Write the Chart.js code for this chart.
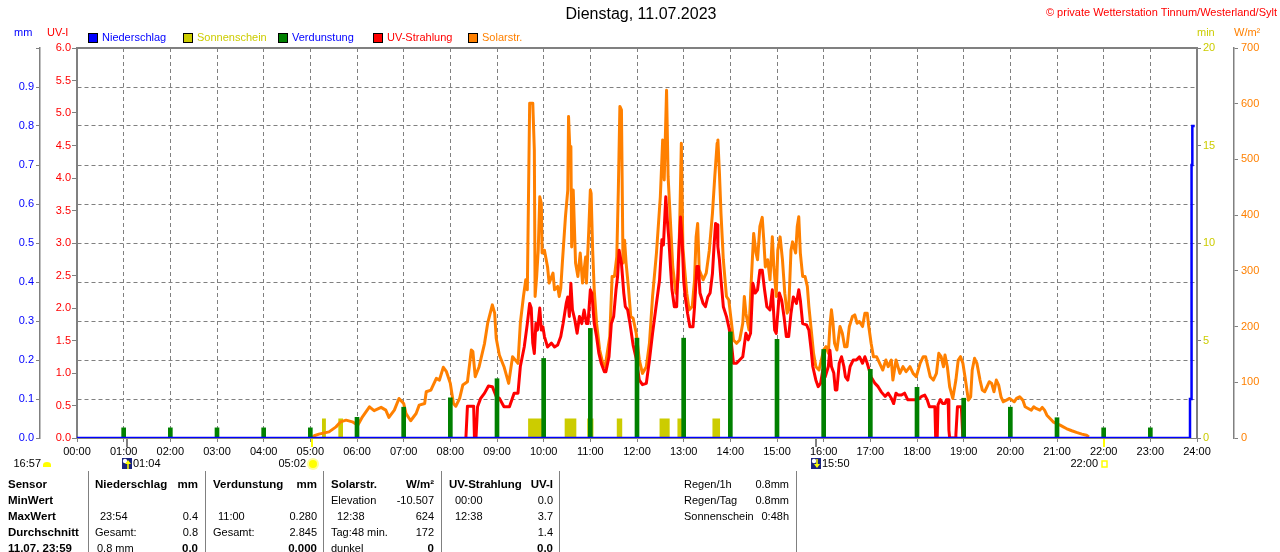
<!DOCTYPE html>
<html>
<head>
<meta charset="utf-8">
<title>Dienstag, 11.07.2023</title>
<script src="https://cdn.jsdelivr.net/npm/chart.js@4.4.0/dist/chart.umd.min.js"></script>
<style>
  html, body { margin: 0; padding: 0; background: #fff; }
  #wrap { width: 1280px; height: 552px; }
</style>
</head>
<body>
<div id="wrap"><canvas id="wetter-chart" width="1280" height="552"></canvas></div>
<script>

// Solarstrahlung (W/m²)
const solarTimes = [
  '05:02','05:05','05:11','05:24','05:33','05:39','05:46','05:54',
  '06:01','06:07','06:16','06:22','06:31','06:37','06:41','06:48','06:54',
  '07:00','07:03','07:09','07:16','07:20','07:27','07:29','07:35','07:42','07:46','07:51','07:55',
  '08:00','08:04','08:07','08:12','08:16','08:22','08:27','08:29','08:32','08:37','08:44','08:48','08:54','08:57','08:59',
  '09:03','09:09','09:15','09:20','09:27','09:30','09:34','09:37','09:39','09:42','09:46','09:48',
  '09:49','09:51','09:53','09:55','09:57','09:58',
  '10:01','10:05','10:07','10:12','10:14','10:18','10:20','10:22','10:24','10:28',
  '10:31','10:32','10:34','10:35','10:36','10:38','10:41','10:44','10:47','10:50','10:54','10:55','10:58',
  '11:00','11:01','11:03','11:05','11:08','11:12','11:16','11:19','11:25','11:28',
  '11:31','11:34','11:36','11:38','11:40','11:42','11:44','11:46','11:49','11:52','11:55','11:59',
  '12:03','12:07','12:12','12:16','12:20','12:25','12:30','12:33','12:35','12:38',
  '12:40','12:42','12:44','12:46','12:50','12:53','12:55','12:57','12:59',
  '13:01','13:04','13:07','13:11','13:14','13:16','13:18','13:20','13:25','13:29',
  '13:33','13:37','13:40','13:43','13:44','13:46','13:48','13:51','13:55','13:58',
  '14:01','14:04','14:08','14:12','14:16','14:18','14:20','14:24','14:27','14:30',
  '14:33','14:35','14:38','14:41','14:43','14:45','14:48','14:51','14:54','14:56','14:59',
  '15:01','15:04','15:07','15:10','15:13','15:15','15:18','15:20','15:24','15:26','15:28',
  '15:30','15:33','15:36','15:39','15:41','15:44','15:47','15:50','15:54','15:57',
  '16:00','16:03','16:06','16:08','16:10','16:12','16:14','16:17','16:21','16:24','16:27',
  '16:30','16:33','16:37','16:40','16:43','16:46','16:50','16:53','16:56','16:58',
  '17:01','17:04','17:08','17:12','17:16','17:20','17:23','17:27','17:29','17:33','17:38','17:42','17:46','17:51','17:55','17:59',
  '18:04','18:08','18:11','18:14','18:17','18:21','18:25','18:28','18:31','18:34',
  '18:36','18:39','18:42','18:46','18:50','18:53','18:56','18:59',
  '19:03','19:06','19:09','19:11','19:14','19:17','19:21','19:24','19:27','19:30',
  '19:33','19:36','19:39','19:42','19:45','19:48','19:51','19:55','19:59',
  '20:02','20:05','20:08','20:12','20:16','20:19','20:23','20:27','20:30','20:33',
  '20:38','20:41','20:44','20:47','20:51','20:55','20:59',
  '21:04','21:08','21:12','21:19','21:25','21:32','21:38','21:41'
];
const solarValues = [
  0, 4, 7, 11, 20, 29, 32, 29,
  23, 38, 56, 49, 55, 50, 37, 50, 71,
  62, 44, 31, 44, 59, 62, 83, 86, 107, 104, 127, 119,
  98, 62, 57, 71, 95, 101, 158, 155, 110, 128, 170, 206, 239, 224, 179,
  149, 128, 98, 146, 134, 206, 254, 284, 266, 601, 601, 517,
  254, 290, 337, 433, 421, 332,
  337, 307, 278, 296, 266, 272, 254, 269, 314, 397,
  445, 577, 505, 523, 343, 445, 314, 290, 332, 278, 325, 278, 373,
  445, 439, 337, 266, 206, 158, 134, 128, 182, 290,
  290, 325, 445, 595, 589, 314, 355, 314, 270, 218, 215, 188,
  140, 116, 128, 170, 254, 332, 433, 535, 463, 624,
  469, 415, 361, 307, 260, 284, 391, 529, 343,
  307, 260, 230, 236, 284, 361, 385, 302, 284, 296,
  337, 403, 469, 529, 535, 475, 403, 320, 254, 248,
  212, 176, 170, 176, 206, 254, 224, 194, 284, 367,
  332, 320, 380, 396, 355, 307, 320, 284, 361, 307, 254,
  337, 361, 320, 260, 224, 230, 337, 352, 332, 379, 397,
  332, 290, 290, 272, 236, 194, 152, 128, 122, 140,
  158, 164, 152, 200, 230, 206, 170, 158, 200, 188, 164,
  164, 200, 218, 221, 206, 209, 200, 224, 224, 200,
  170, 146, 146, 134, 122, 140, 128, 140, 104, 140, 116, 128, 119, 128, 116, 110,
  134, 146, 146, 128, 110, 104, 116, 152, 146, 128,
  149, 128, 92, 71, 104, 140, 146, 134,
  98, 68, 74, 122, 143, 134, 104, 86, 83, 92,
  101, 98, 83, 104, 95, 74, 65, 68, 71,
  68, 65, 71, 74, 68, 56, 53, 50, 56, 53,
  50, 55, 50, 41, 35, 29, 26,
  23, 20, 17, 13, 10, 7, 5, 2
];

// UV-Strahlung (UV-Index)
const uvTimes = [
  '08:20','08:22','08:27','08:30','08:31','08:33','08:35','08:39','08:44','08:49','08:54','08:59',
  '09:03','09:09','09:16','09:22','09:27','09:30','09:35','09:39','09:42','09:44','09:46','09:48',
  '09:50','09:52','09:55','09:57','09:59',
  '10:01','10:05','10:10','10:14','10:18','10:22','10:25','10:29','10:31','10:33','10:35','10:37',
  '10:40','10:43','10:46','10:49','10:52','10:55','10:57',
  '11:00','11:02','11:05','11:08','11:11','11:14','11:18','11:20','11:24','11:27','11:30',
  '11:33','11:35','11:37','11:40','11:43','11:45','11:48','11:51','11:55','11:59',
  '12:03','12:07','12:12','12:16','12:20','12:25','12:29','12:32','12:34','12:37','12:39','12:41',
  '12:43','12:45','12:48','12:51','12:53','12:56','12:58',
  '13:00','13:02','13:05','13:08','13:12','13:14','13:17','13:19','13:21','13:25','13:28','13:31',
  '13:34','13:37','13:39','13:41','13:43','13:44','13:46','13:48','13:51','13:55','13:58',
  '14:01','14:04','14:08','14:12','14:16','14:20','14:23','14:26','14:29','14:32','14:35',
  '14:38','14:41','14:44','14:47','14:51','14:54','14:57','14:59',
  '15:03','15:06','15:09','15:12','15:15','15:18','15:21','15:25','15:28','15:30',
  '15:33','15:38','15:41','15:44','15:46','15:50','15:53','15:56','15:59',
  '16:02','16:06','16:08','16:10','16:13','16:15','16:17','16:20','16:23','16:26','16:28',
  '16:31','16:34','16:38','16:42','16:46','16:50','16:53','16:56',
  '17:01','17:06','17:10','17:14','17:19','17:23','17:27','17:30','17:33','17:36','17:40','17:44','17:48','17:55',
  '18:01','18:06','18:10','18:13','18:16','18:20','18:23','18:24','18:26','18:27','18:30','18:33',
  '18:36','18:38','18:40','18:41','18:42','18:49','18:50','18:52','18:57','18:59','19:01'
];
const uvValues = [
  0, 0.49, 0.49, 0.49, 0, 0, 0.48, 0.61, 0.69, 0.80, 0.79, 0.64,
  0.61, 0.48, 0.48, 0.69, 0.69, 1.10, 1.40, 1.76, 2.07, 2.00, 1.46, 1.30,
  1.76, 1.66, 2.00, 1.66, 1.71,
  1.56, 1.40, 1.46, 1.40, 1.43, 1.56, 1.76, 2.07, 2.17, 1.87, 2.38, 1.97,
  1.82, 1.61, 1.87, 1.76, 1.97, 1.76, 1.76,
  2.28, 2.23, 1.76, 1.56, 1.30, 1.15, 1.02, 1.02, 1.25, 1.76, 1.87,
  2.28, 2.48, 2.89, 2.69, 2.23, 2.02, 1.97, 1.76, 1.43, 1.22,
  0.89, 0.82, 0.84, 1.20, 1.61, 2.07, 2.43, 3.05, 2.97, 3.71, 3.35, 3.05,
  2.64, 2.28, 2.02, 2.02, 2.69, 3.40, 3.05,
  2.43, 2.17, 1.92, 1.71, 1.71, 2.02, 2.64, 2.64, 2.23, 2.07, 2.02, 2.17,
  2.23, 2.53, 2.94, 3.30, 3.28, 2.94, 2.74, 2.43, 2.02, 1.87, 1.71,
  1.51, 1.15, 1.15, 1.20, 1.25, 1.61, 1.51, 1.61, 2.38, 2.23, 2.28,
  2.58, 2.58, 2.28, 2.02, 1.97, 2.28, 1.66, 1.61,
  2.23, 2.12, 1.87, 1.56, 1.56, 1.92, 2.17, 2.07, 2.28, 2.12,
  1.76, 1.74, 1.66, 1.35, 1.10, 0.89, 0.79, 0.84, 1.05,
  0.94, 1.10, 1.35, 1.10, 1.00, 0.74, 0.74, 1.15, 1.25, 1.10, 0.94,
  0.89, 1.10, 1.20, 1.20, 1.25, 1.15, 1.25, 1.15,
  0.94, 0.84, 0.79, 0.71, 0.64, 0.69, 0.61, 0.53, 0.69, 0.66, 0.66, 0.69, 0.59, 0.59,
  0.59, 0.64, 0.66, 0.59, 0.48, 0.48, 0.48, 0, 0, 0.51, 0.59, 0.53,
  0.53, 0.59, 0.59, 0.12, 0, 0, 0.05, 0.48, 0.48, 0, 0
];

// Verdunstung (mm pro Stunde)
const evapTimes = ['01:00','02:00','03:00','04:00','05:00','06:00','07:00','08:00','09:00','10:00','11:00','12:00',
  '13:00','14:00','15:00','16:00','17:00','18:00','19:00','20:00','21:00','22:00','23:00'];
const evapValues = [0.026, 0.026, 0.026, 0.026, 0.026, 0.053, 0.079, 0.103, 0.152, 0.204, 0.281, 0.256,
  0.256, 0.272, 0.253, 0.227, 0.176, 0.130, 0.102, 0.079, 0.052, 0.026, 0.026];

// Niederschlag (mm, aufsummiert)
const rainTimes = ['00:00','23:51','23:53','23:54','23:57'];
const rainValues = [0, 0.1, 0.7, 0.8, 0.8];

// Sonnenschein (min)
const sunFrom = ['05:15','05:36','09:40','10:27','10:56','11:34','12:29','12:52','13:37'];
const sunTo   = ['05:20','05:42','09:58','10:42','11:04','11:41','12:42','12:58','13:47'];
const sunMin  = [1, 1, 1, 1, 1, 1, 1, 1, 1];

// Mond / Sonne
const eventTimes = ['01:04','05:02','15:50','22:00'];
const eventKinds = ['moonrise','sunrise','moonset','sunset'];
const dayLength = '16:57';

const toMin = t => { const p = t.split(':'); return +p[0] * 60 + +p[1]; };
const pts = (times, vals) => times.map((t, i) => ({ x: toMin(t), y: vals[i] }));

const sunPoints = [];
sunFrom.forEach((t, i) => {
  const a = toMin(t), b = toMin(sunTo[i]);
  sunPoints.push({ x: a, y: 0 }, { x: a, y: sunMin[i] }, { x: b, y: sunMin[i] }, { x: b, y: 0 });
});

const FONT = "'Liberation Sans', Arial, sans-serif";
Chart.defaults.font.family = FONT;
Chart.defaults.font.size = 11;

const GRID = '#808080';
const legendItems = [
  { label: 'Niederschlag', box: '#0000ff', text: '#0000ff' },
  { label: 'Sonnenschein', box: '#cccc00', text: '#cccc00' },
  { label: 'Verdunstung', box: '#008000', text: '#0000ff' },
  { label: 'UV-Strahlung', box: '#ff0000', text: '#ff0000' },
  { label: 'Solarstr.', box: '#ff8000', text: '#ff8000' }
];

function txt(ctx, s, x, y, color, align, font) {
  ctx.fillStyle = color;
  ctx.textAlign = align || 'left';
  ctx.textBaseline = 'middle';
  ctx.font = font || '11px ' + FONT;
  ctx.fillText(s, x, y);
}

const decor = {
  id: 'decor',
  afterDraw(chart) {
    const { ctx, chartArea: a, scales } = chart;
    ctx.save();

    // Rahmen
    ctx.strokeStyle = GRID;
    ctx.lineWidth = 2;
    ctx.beginPath();
    ctx.moveTo(a.left - 1, a.top);
    ctx.lineTo(a.right + 1, a.top);
    ctx.stroke();

    // Überschriften
    txt(ctx, 'Dienstag, 11.07.2023', 641, 15, '#000', 'center', '16px ' + FONT);
    txt(ctx, '\u00a9 private Wetterstation Tinnum/Westerland/Sylt', 1277, 13, '#ff0000', 'right');
    txt(ctx, 'mm', 14, 33, '#0000ff');
    txt(ctx, 'UV-I', 47, 33, '#ff0000');
    txt(ctx, 'min', 1197, 33, '#cccc00');
    txt(ctx, 'W/m\u00b2', 1234, 33, '#ff8000');

    // Legende
    legendItems.forEach((it, i) => {
      const x = 88 + i * 95;
      ctx.fillStyle = it.box;
      ctx.fillRect(x, 33, 10, 10);
      ctx.strokeStyle = '#000';
      ctx.lineWidth = 1;
      ctx.strokeRect(x + 0.5, 33.5, 9, 9);
      txt(ctx, it.label, x + 14, 38, it.text);
    });

    // Mond- und Sonnenzeiten unter der Zeitachse
    const yIcon = 464;
    eventTimes.forEach((t, i) => {
      const p = Math.round(scales.x.getPixelForValue(toMin(t)));
      const kind = eventKinds[i];
      ctx.lineWidth = 2;
      ctx.strokeStyle = kind.startsWith('moon') ? GRID : '#ffff00';
      ctx.beginPath();
      ctx.moveTo(p, a.bottom + 1);
      ctx.lineTo(p, a.bottom + 9);
      ctx.stroke();
      if (kind.startsWith('moon')) {
        ctx.fillStyle = '#1a237e';
        ctx.fillRect(p - 5, yIcon - 6, 10, 11);
        ctx.fillStyle = '#fff';
        ctx.beginPath();
        ctx.arc(p - 2, yIcon - 3, 2.2, 0, Math.PI * 2);
        ctx.fill();
        ctx.strokeStyle = '#ffff00';
        ctx.lineWidth = 1.5;
        ctx.beginPath();
        const up = kind === 'moonrise';
        ctx.moveTo(p + 1, up ? yIcon + 5 : yIcon - 5);
        ctx.lineTo(p + 1, up ? yIcon - 1 : yIcon + 1);
        ctx.stroke();
        ctx.fillStyle = '#ffff00';
        ctx.beginPath();
        if (up) { ctx.moveTo(p - 2, yIcon); ctx.lineTo(p + 4, yIcon); ctx.lineTo(p + 1, yIcon - 4); }
        else { ctx.moveTo(p - 2, yIcon); ctx.lineTo(p + 4, yIcon); ctx.lineTo(p + 1, yIcon + 4); }
        ctx.fill();
        txt(ctx, t, p + 6, yIcon, '#000');
      } else if (kind === 'sunrise') {
        ctx.fillStyle = '#ffff99';
        ctx.beginPath(); ctx.arc(p + 1, yIcon, 6, 0, Math.PI * 2); ctx.fill();
        ctx.fillStyle = '#ffff00';
        ctx.beginPath(); ctx.arc(p + 1, yIcon, 4, 0, Math.PI * 2); ctx.fill();
        txt(ctx, t, p - 6, yIcon, '#000', 'right');
      } else {
        ctx.strokeStyle = '#ffff00';
        ctx.lineWidth = 1.5;
        ctx.strokeRect(p - 2, yIcon - 3, 5, 6);
        txt(ctx, t, p - 6, yIcon, '#000', 'right');
      }
    });
    txt(ctx, dayLength, 41, yIcon, '#000', 'right');
    ctx.fillStyle = '#ffff00';
    ctx.beginPath();
    ctx.ellipse(47, yIcon + 1, 4, 3, 0, Math.PI, 0);
    ctx.lineTo(51, yIcon + 3);
    ctx.lineTo(43, yIcon + 3);
    ctx.fill();

    // Tabelle
    ctx.strokeStyle = GRID;
    ctx.lineWidth = 1;
    [88, 205, 323, 441, 559, 796].forEach(x => {
      ctx.beginPath();
      ctx.moveTo(x + 0.5, 471);
      ctx.lineTo(x + 0.5, 552);
      ctx.stroke();
    });
    const B = 'bold 11.5px ' + FONT;
    const rows = [485, 501, 517, 533, 549];
    ['Sensor', 'MinWert', 'MaxWert', 'Durchschnitt', '11.07. 23:59'].forEach((s, i) => txt(ctx, s, 8, rows[i], '#000', 'left', B));
    const cells = [
      [0, 'Niederschlag', 95, 'left', B], [0, 'mm', 198, 'right', B],
      [0, 'Verdunstung', 213, 'left', B], [0, 'mm', 317, 'right', B],
      [0, 'Solarstr.', 331, 'left', B], [0, 'W/m\u00b2', 434, 'right', B],
      [0, 'UV-Strahlung', 449, 'left', B], [0, 'UV-I', 553, 'right', B],
      [1, 'Elevation', 331, 'left'], [1, '-10.507', 434, 'right'],
      [1, '00:00', 455, 'left'], [1, '0.0', 553, 'right'],
      [2, '23:54', 100, 'left'], [2, '0.4', 198, 'right'],
      [2, '11:00', 218, 'left'], [2, '0.280', 317, 'right'],
      [2, '12:38', 337, 'left'], [2, '624', 434, 'right'],
      [2, '12:38', 455, 'left'], [2, '3.7', 553, 'right'],
      [3, 'Gesamt:', 95, 'left'], [3, '0.8', 198, 'right'],
      [3, 'Gesamt:', 213, 'left'], [3, '2.845', 317, 'right'],
      [3, 'Tag:48 min.', 331, 'left'], [3, '172', 434, 'right'],
      [3, '1.4', 553, 'right'],
      [4, '0.8 mm', 97, 'left'], [4, '0.0', 198, 'right', B],
      [4, '0.000', 317, 'right', B],
      [4, 'dunkel', 331, 'left'], [4, '0', 434, 'right', B],
      [4, '0.0', 553, 'right', B],
      [0, 'Regen/1h', 684, 'left'], [0, '0.8mm', 789, 'right'],
      [1, 'Regen/Tag', 684, 'left'], [1, '0.8mm', 789, 'right'],
      [2, 'Sonnenschein', 684, 'left'], [2, '0:48h', 789, 'right']
    ];
    cells.forEach(c => txt(ctx, c[1], c[2], rows[c[0]], '#000', c[3], c[4]));

    ctx.restore();
  }
};

const ctx = document.getElementById('wetter-chart').getContext('2d');

const wetterChart = new Chart(ctx, {
  type: 'line',
  data: {
    datasets: [
      {
        label: 'Niederschlag',
        data: pts(rainTimes, rainValues),
        yAxisID: 'mm',
        borderColor: '#0000ff',
        borderWidth: 2.5,
        stepped: 'before',
        order: 0
      },
      {
        type: 'bar',
        label: 'Verdunstung',
        data: pts(evapTimes, evapValues),
        yAxisID: 'mm',
        backgroundColor: '#008000',
        barThickness: 4,
        order: 1
      },
      {
        label: 'UV-Strahlung',
        data: pts(uvTimes, uvValues),
        yAxisID: 'uv',
        borderColor: '#ff0000',
        borderWidth: 3,
        borderJoinStyle: 'round',
        order: 2
      },
      {
        label: 'Solarstr.',
        data: pts(solarTimes, solarValues),
        yAxisID: 'w',
        borderColor: '#ff8000',
        borderWidth: 3,
        borderJoinStyle: 'round',
        order: 3
      },
      {
        label: 'Sonnenschein',
        data: sunPoints,
        yAxisID: 'min',
        borderWidth: 0,
        borderColor: '#cccc00',
        backgroundColor: '#cccc00',
        fill: 'origin',
        order: 4
      }
    ]
  },
  options: {
    responsive: false,
    animation: false,
    layout: { padding: { top: 48, left: 0, right: 0, bottom: 0 } },
    elements: { point: { radius: 0 }, line: { tension: 0 } },
    plugins: { legend: { display: false }, tooltip: { enabled: false } },
    scales: {
      x: {
        type: 'linear', min: 0, max: 1440, offset: false,
        ticks: {
          stepSize: 60, autoSkip: false, maxRotation: 0, color: '#000', padding: 3,
          callback: v => String(v / 60).padStart(2, '0') + ':00'
        },
        grid: { offset: false, color: GRID, lineWidth: 1, tickLength: 4 },
        border: { color: GRID, width: 1, dash: [4, 3] },
        afterFit: s => { s.height = 114; }
      },
      mm: {
        position: 'left', weight: 1, min: 0, max: 1,
        ticks: { stepSize: 0.1, color: '#0000ff', padding: 2, callback: v => v < 0.95 ? v.toFixed(1) : '' },
        grid: { color: GRID, lineWidth: 1, tickLength: 4 },
        border: { color: GRID, width: 1.5, dash: [4, 3] },
        afterFit: s => { s.width = 40; }
      },
      uv: {
        position: 'left', weight: 0, min: 0, max: 6,
        ticks: { stepSize: 0.5, color: '#ff0000', padding: 1, callback: v => v.toFixed(1) },
        grid: { drawOnChartArea: false, color: GRID, tickLength: 5 },
        border: { color: GRID, width: 2 },
        afterFit: s => { s.width = 37; }
      },
      min: {
        position: 'right', weight: 0, min: 0, max: 20,
        ticks: { stepSize: 5, color: '#cccc00', padding: 2 },
        grid: { drawOnChartArea: false, color: GRID, tickLength: 4 },
        border: { color: GRID, width: 2 },
        afterFit: s => { s.width = 37; }
      },
      w: {
        position: 'right', weight: 1, min: 0, max: 700,
        ticks: { stepSize: 100, color: '#ff8000', padding: 3 },
        grid: { drawOnChartArea: false, color: GRID, tickLength: 4 },
        border: { color: GRID, width: 1.5 },
        afterFit: s => { s.width = 46; }
      }
    }
  },
  plugins: [decor]
});
</script>
</body>
</html>
